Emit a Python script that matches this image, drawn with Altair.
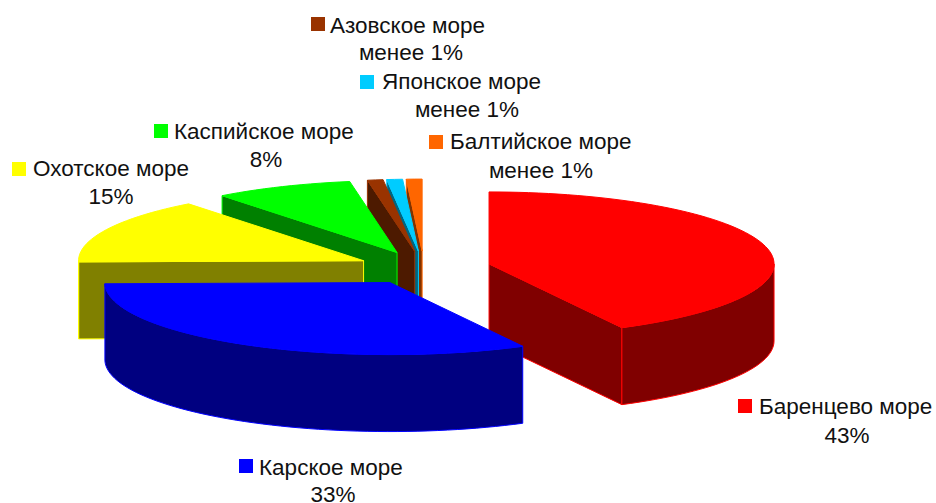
import math
import altair as alt
import pandas as pd

# Shares of each sea, in percent
seas = ["Баренцево море", "Карское море", "Охотское море", "Каспийское море",
        "Азовское море", "Японское море", "Балтийское море"]
shares = [43, 33, 15, 8, 0.9, 0.9, 0.9]
share_labels = ["43%", "33%", "15%", "8%", "менее 1%", "менее 1%", "менее 1%"]
top_colors = ["#ff0000", "#0000ff", "#ffff00", "#00ff00", "#993300", "#00ccff", "#ff6600"]
side_colors = ["#800000", "#000080", "#808000", "#008000", "#4d1a00", "#006680", "#803300"]

# Label anchors: legend key, name text and value text
key_x = [745, 246, 19, 161, 318, 367, 436]
key_y = [406, 466, 169, 131, 24, 82, 142]
name_x = [759, 259, 33, 174, 330, 382, 450]
name_y = [407, 468, 169, 132, 26, 82, 142]
value_x = [847, 333, 111, 266, 411, 467, 541]
value_y = [436, 495, 197, 160, 53, 110, 171]

# Pie projection
CX, CY = 424, 268
RX, RY = 285, 72
DEPTH = 77
EXPLODE = 67
ROTATION = 0
DRAW_ORDER = [6, 5, 4, 3, 2, 0, 1]

X = alt.X("x:Q", scale=alt.Scale(domain=[0, 936], range=[0, 936]), axis=None)
Y = alt.Y("y:Q", scale=alt.Scale(domain=[503, 0], range=[503, 0], reverse=False), axis=None)


def polygon(points, fill, stroke):
    closed = points + [points[0]]
    df = pd.DataFrame(
        {"x": [p[0] for p in closed], "y": [p[1] for p in closed], "i": range(len(closed))}
    )
    return alt.Chart(df).mark_line(
        fill=fill, stroke=stroke, strokeWidth=1, strokeJoin="miter", interpolate="linear"
    ).encode(x=X, y=Y, order="i:Q")


def rim(apex, deg):
    a = math.radians(deg)
    return (apex[0] + RX * math.sin(a), apex[1] - RY * math.cos(a))


def arc_points(apex, start, end):
    steps = max(2, int(abs(end - start) / 2))
    return [rim(apex, start + (end - start) * k / steps) for k in range(steps + 1)]


def drop(points):
    return [(x, y + DEPTH) for x, y in points]


def slice_layers(idx, start, end):
    mid = math.radians((start + end) / 2)
    apex = (CX + EXPLODE * math.sin(mid), CY - EXPLODE * RY / RX * math.cos(mid))
    bright, dark = top_colors[idx], side_colors[idx]
    layers = []

    # Radial cut faces that look towards the viewer
    if math.sin(math.radians(start)) < 0:
        edge = [apex, rim(apex, start)]
        layers.append(polygon(edge + drop(edge)[::-1], dark, bright))
    if math.sin(math.radians(end)) > 0:
        edge = [apex, rim(apex, end)]
        layers.append(polygon(edge + drop(edge)[::-1], dark, bright))

    # Outer wall, front half of the ellipse only
    lo, hi = max(start, 90), min(end, 270)
    if lo < hi:
        arc = arc_points(apex, lo, hi)
        layers.append(polygon(arc + drop(arc)[::-1], dark, bright))

    # Top face
    layers.append(polygon([apex] + arc_points(apex, start, end), bright, bright))
    return layers


total = sum(shares)
spans = []
angle = ROTATION
for s in shares:
    spans.append((angle, angle + s / total * 360))
    angle += s / total * 360

layers = []
for i in DRAW_ORDER:
    layers += slice_layers(i, *spans[i])

keys = pd.DataFrame({"x": key_x, "y": key_y, "c": top_colors})
key_layer = alt.Chart(keys).mark_square(size=196, opacity=1).encode(
    x=X, y=Y, color=alt.Color("c:N", scale=None)
)

names = pd.DataFrame({"x": name_x, "y": name_y, "t": seas})
name_layer = alt.Chart(names).mark_text(
    font="Liberation Sans", fontSize=22.5, align="left", baseline="middle", color="#111111"
).encode(x=X, y=Y, text="t:N")

values = pd.DataFrame({"x": value_x, "y": value_y, "t": share_labels})
value_layer = alt.Chart(values).mark_text(
    font="Liberation Sans", fontSize=22.5, align="center", baseline="middle", color="#111111"
).encode(x=X, y=Y, text="t:N")

chart = alt.layer(*layers, key_layer, name_layer, value_layer).properties(
    width=936, height=503, padding=0, autosize=alt.AutoSizeParams(type="none"),
    background="white",
).configure_view(stroke=None)

chart.save("out.html", embed_options={"renderer": "svg", "actions": False})
